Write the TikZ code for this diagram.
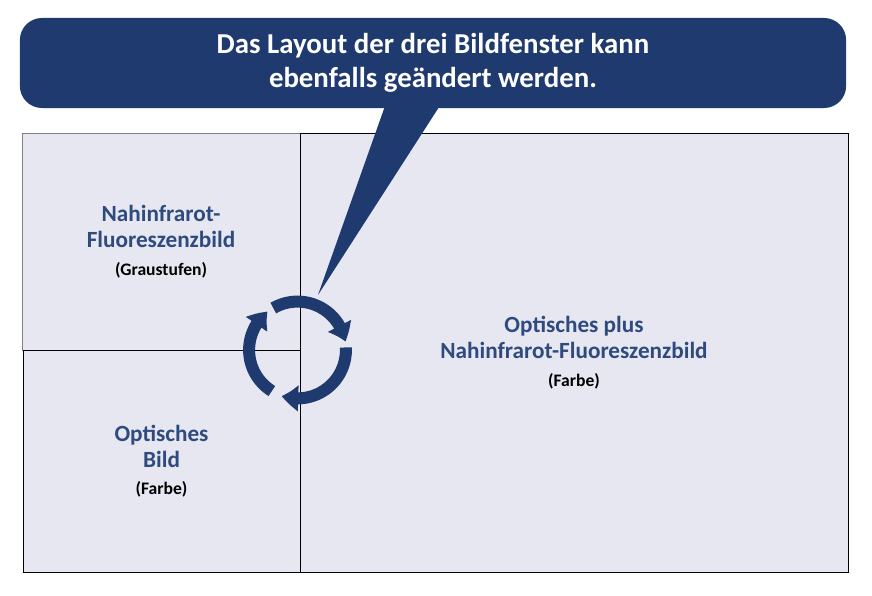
\documentclass[tikz,border=0pt]{standalone}
\usepackage{fontspec}
\setmainfont{Carlito}
\usepackage{tikz}
\usetikzlibrary{arrows.meta,bending,calc}
\definecolor{Navy}{HTML}{1F3A6E}
\definecolor{Title}{HTML}{2E4A7E}
\definecolor{Pane}{HTML}{E6E7F0}

\newcommand{\subfont}{\color{black}\fontsize{12.5}{14}\selectfont}

\begin{document}
\begin{tikzpicture}[
    x=0.025cm, y=-0.025cm,
    pane/.style={draw, rectangle, fill=Pane, align=center, inner sep=0pt, text=Title,
      font={\fontsize{16.5}{18.5}\selectfont\bfseries}},
    note/.style={rectangle, rounded corners=0.55cm, fill=Navy, text=white, align=center,
      font={\fontsize{20.5}{24.5}\selectfont\bfseries}},
    cycarrow/.style={Navy, line width=0.3cm, -{Triangle[width=0.62cm, length=0.42cm, bend]}}
  ]
  \useasboundingbox (0,0) rectangle (872,596);

  \node[pane, draw=gray, minimum width=6.95cm, minimum height=5.425cm] (nir) at (161,241.5)
  {Nahinfrarot-\\Fluoreszenzbild\\[1pt]\subfont (Graustufen)};

  \node[pane, minimum width=6.925cm, minimum height=5.55cm] (opt) at (161.5,461)
  {Optisches\\Bild\\[1pt]\subfont (Farbe)};

  \node[pane, minimum width=13.7cm, minimum height=10.975cm] (both) at (574,352.5)
  {Optisches plus\\Nahinfrarot-Fluoreszenzbild\\[1pt]\subfont (Farbe)};

  % three arrows, one per window
  \coordinate (cyc) at (297.5,350);
  \draw[cycarrow] ([shift={(120:1.21cm)}]cyc) arc[start angle=120, end angle=10, radius=1.21cm];
  \draw[cycarrow] ([shift={(3:1.21cm)}]cyc) arc[start angle=3, end angle=-109, radius=1.21cm];
  \draw[cycarrow] ([shift={(-122:1.21cm)}]cyc) arc[start angle=-122, end angle=-232, radius=1.21cm];

  \node[note, minimum width=20.65cm, minimum height=2.25cm] (callout) at (433,63)
  {Das Layout der drei Bildfenster kann\\ebenfalls geändert werden.};

  \coordinate (tip) at (318,295);
  \fill[Navy] ([xshift=-34pt,yshift=2pt]callout.south) -- (tip) -- ([xshift=5pt,yshift=2pt]callout.south) -- cycle;
\end{tikzpicture}
\end{document}
